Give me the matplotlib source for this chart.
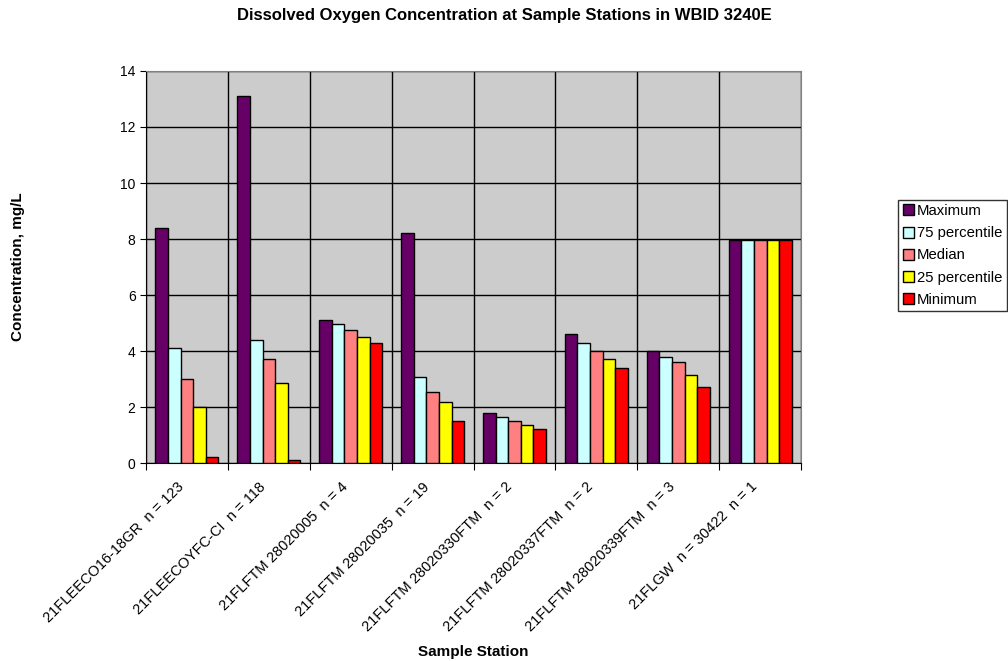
import numpy as np
import matplotlib
matplotlib.use('Agg')
import matplotlib.pyplot as plt
import matplotlib.transforms as mtransforms

plt.rcParams['font.family'] = ['Liberation Sans', 'DejaVu Sans']

# data
stations = ['21FLEECO16-18GR  n = 123', '21FLEECOYFC-CI  n = 118', '21FLFTM 28020005  n = 4',
            '21FLFTM 28020035  n = 19', '21FLFTM 28020330FTM  n = 2', '21FLFTM 28020337FTM  n = 2',
            '21FLFTM 28020339FTM  n = 3', '21FLGW  n = 30422  n = 1']
maximum = [8.4, 13.1, 5.1, 8.2, 1.8, 4.6, 4.0, 7.95]
p75 = [4.1, 4.4, 4.95, 3.07, 1.65, 4.3, 3.8, 7.95]
median = [3.0, 3.7, 4.75, 2.55, 1.5, 4.0, 3.6, 7.95]
p25 = [2.0, 2.85, 4.5, 2.17, 1.35, 3.7, 3.15, 7.95]
minimum = [0.2, 0.1, 4.3, 1.5, 1.2, 3.4, 2.7, 7.95]

series = [('Maximum', maximum, '#660066'),
          ('75 percentile', p75, '#CCFFFF'),
          ('Median', median, '#FF8080'),
          ('25 percentile', p25, '#FFFF00'),
          ('Minimum', minimum, '#FF0000')]

fig = plt.figure(figsize=(10.08, 6.61), dpi=100)
ax = fig.add_axes([0.1448, 0.2995, 0.65, 0.5931])
ax.set_facecolor('#CCCCCC')

x = np.arange(len(stations))
w = 0.154
for i, (name, vals, col) in enumerate(series):
    ax.bar(x + (i - 2) * w, vals, width=w, color=col, edgecolor='black',
           linewidth=1, label=name, zorder=3)

ax.set_xlim(-0.5, len(stations) - 0.5)
ax.set_ylim(0, 14)
ax.set_yticks(range(0, 15, 2))
ax.tick_params(axis='y', labelsize=10, direction='out', length=4)

# category boundaries for ticks and vertical grid
ax.set_xticks(np.arange(-0.5, len(stations), 1.0))
ax.set_xticklabels([])
ax.set_xticks(x, minor=True)
ax.set_xticklabels(stations, minor=True, rotation=45, ha='right', va='top',
                   rotation_mode='anchor', fontsize=10.5)
ax.tick_params(axis='x', which='minor', length=0, pad=12)
ax.tick_params(axis='x', which='major', direction='out', length=5)
shift = mtransforms.ScaledTranslation(-10 / 100, 0, fig.dpi_scale_trans)
for lab in ax.get_xticklabels(minor=True):
    lab.set_transform(lab.get_transform() + shift)

ax.grid(True, which='major', color='black', linewidth=1, zorder=0)
ax.set_axisbelow(True)
for s in ['top', 'right']:
    ax.spines[s].set_color('#808080')
for s in ['left', 'bottom']:
    ax.spines[s].set_color('black')

fig.text(0.5, 0.976, 'Dissolved Oxygen Concentration at Sample Stations in WBID 3240E',
         ha='center', va='center', fontsize=12, fontweight='bold')
fig.text(0.018, 0.596, 'Concentration, mg/L', rotation=90, ha='center', va='center',
         fontsize=11, fontweight='bold')
fig.text(0.469, 0.014, 'Sample Station', ha='center', va='center', fontsize=11,
         fontweight='bold')

leg = fig.legend(loc='upper left', bbox_to_anchor=(0.891, 0.698), fontsize=10.7,
                 frameon=True, fancybox=False, edgecolor='black', borderpad=0.3,
                 handlelength=0.75, handleheight=0.75, handletextpad=0.2,
                 labelspacing=0.55, borderaxespad=0)
leg.get_frame().set_linewidth(1)

plt.savefig('out.png', dpi=100)
